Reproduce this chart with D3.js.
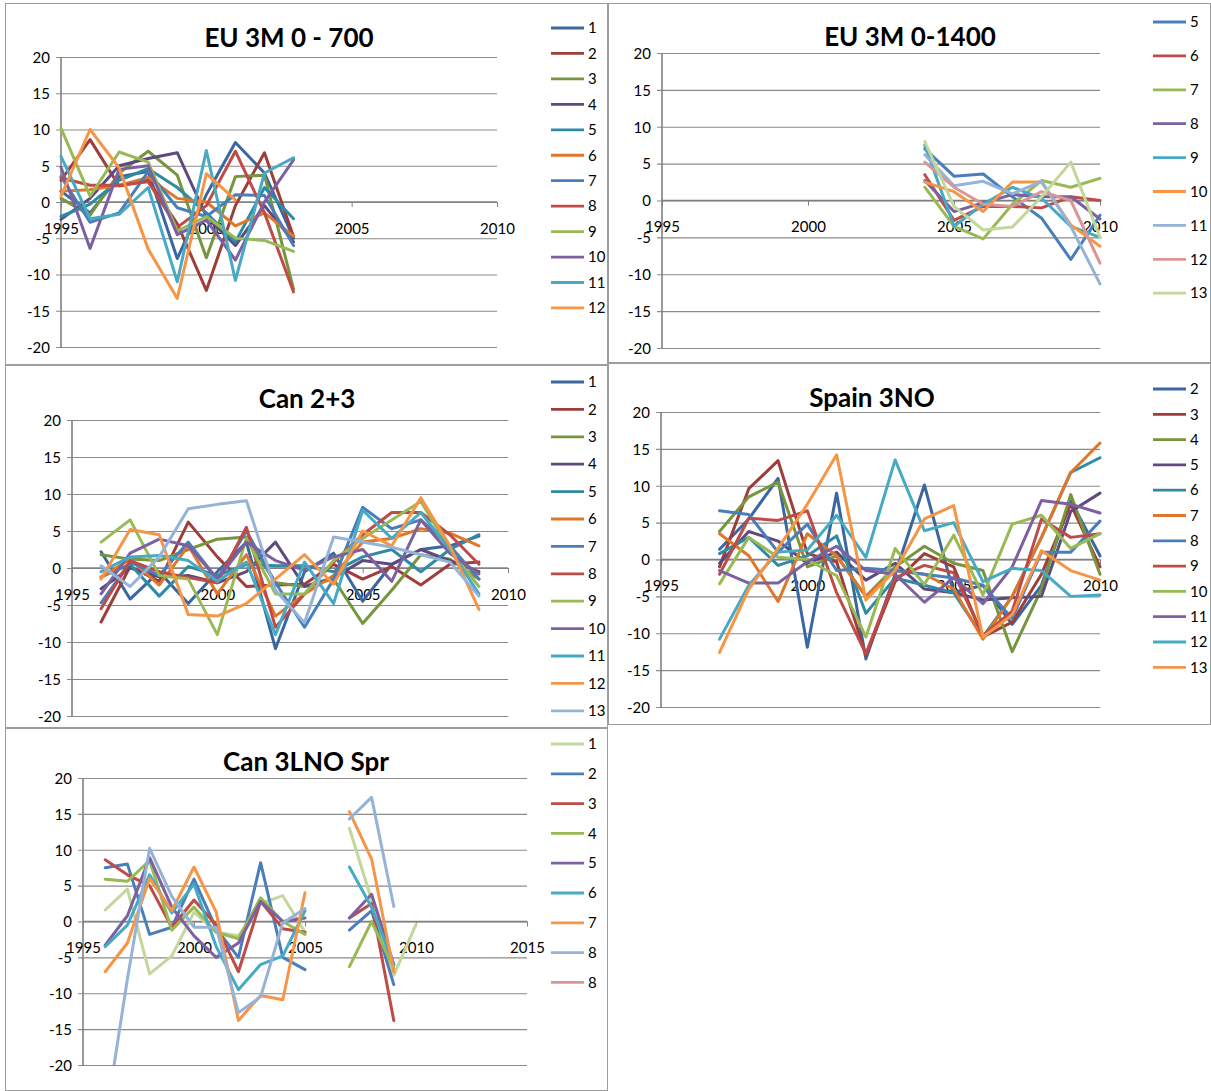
<!DOCTYPE html>
<html><head><meta charset="utf-8">
<script src="https://cdn.jsdelivr.net/npm/d3@7"></script>
<style>
body{margin:0;background:#fff}
svg{display:block}
text{font-family:Lato,"Open Sans",sans-serif;fill:#000}
</style>
</head><body>
<svg id="chart" width="1211" height="1091"></svg>
<script>
// ---- EU 3M 0 - 700 (1995-2003) ----
const euShallowYears = [1995, 1996, 1997, 1998, 1999, 2000, 2001, 2002, 2003];
const euShallowNames = ['1','2','3','4','5','6','7','8','9','10','11','12'];
const euShallowValues = [
  [1.5, -1.5, 3.5, 4.2, -7.8, 1.0, 8.2, 4.0, -5.0],
  [3.0, 8.6, 2.2, 3.0, -3.0, -12.2, -0.5, 6.8, -4.8],
  [0.5, -1.8, 4.0, 7.0, 3.7, -7.7, 3.5, 3.7, -12.0],
  [-2.4, 0.5, 5.0, 6.0, 6.8, -2.0, -6.0, -0.5, -5.5],
  [-2.0, -0.3, 3.0, 4.6, 2.0, -1.5, -5.5, 2.0, -2.3],
  [1.5, 1.7, 2.3, 3.4, 0.5, 0.0, -3.3, -1.5, -4.7],
  [3.5, -2.8, -1.5, 4.2, -0.8, -2.0, 1.0, 0.9, -6.0],
  [3.3, 2.3, 2.3, 2.8, -3.5, -0.5, 7.0, -1.5, -12.4],
  [10.2, 0.8, 6.9, 5.5, -4.0, -2.0, -5.0, -5.3, -6.8],
  [4.8, -6.4, 4.5, 5.0, -4.5, -2.5, -8.0, 0.0, 5.8],
  [6.3, -2.3, -1.7, 2.0, -11.0, 7.1, -10.8, 4.0, 6.1],
  [0.8, 10.0, 4.7, -6.5, -13.3, 3.9, 0.3, null, null]
];

// ---- EU 3M 0-1400 (2004-2010) ----
const euDeepYears = [2004, 2005, 2006, 2007, 2008, 2009, 2010];
const euDeepNames = ['5','6','7','8','9','10','11','12','13'];
const euDeepValues = [
  [7.0, 3.3, 3.6, 0.5, -2.4, -8.0, -2.0],
  [3.5, -2.7, -0.8, -0.8, -1.0, 0.5, 0.0],
  [1.8, -3.5, -5.2, -0.5, 2.7, 1.8, 3.0],
  [2.7, -1.5, -0.3, 0.8, 0.5, 0.5, -2.5],
  [7.5, -3.5, -0.5, 1.8, 0.3, -3.5, -5.0],
  [2.5, 1.2, -1.5, 2.5, 2.5, -3.3, -6.2],
  [6.2, 2.0, 2.6, 0.9, 2.6, -3.5, -11.3],
  [5.2, 1.8, -0.5, -0.8, 1.2, 0.0, -8.5],
  [8.0, -0.8, -4.0, -3.6, 0.5, 5.2, -5.0]
];

// ---- Can 2+3 (1996-2009) ----
const can23Years = [1996, 1997, 1998, 1999, 2000, 2001, 2002, 2003, 2004, 2005, 2006, 2007, 2008, 2009];
const can23Names = ['1','2','3','4','5','6','7','8','9','10','11','12','13'];
const can23Values = [
  [2.2, -4.2, -0.5, -4.8, -0.5, 3.5, -10.9, -0.5, 2.0, -4.5, 0.5, 2.5, 3.0, 4.3],
  [-7.3, 0.2, -1.8, 6.2, 1.5, -2.5, -2.3, -2.2, 0.5, -1.5, 0.2, -2.3, 0.5, 0.8],
  [1.8, 1.2, 1.0, 2.5, 3.9, 4.2, -2.0, -2.5, -1.5, -7.5, -3.0, 1.8, 1.2, -1.5],
  [-2.8, 0.0, -1.2, -1.0, -2.0, -0.5, 3.5, -2.5, -1.3, 1.0, 0.5, 2.5, 1.0, -0.5],
  [-1.2, 0.5, -3.8, 0.2, -1.0, 0.5, 0.3, 0.3, -0.5, 1.5, 2.5, -0.5, 2.5, 4.5],
  [-1.3, 1.2, -2.3, 3.0, -3.5, 1.8, -6.5, -3.5, -1.0, 3.5, 4.0, 5.3, 4.7, 3.0],
  [-4.7, 0.8, -1.0, 3.5, -1.5, 5.0, -2.0, -8.0, -1.5, 8.2, 5.3, 6.5, 3.0, -1.5],
  [-5.5, 1.0, -0.5, -1.3, -2.0, 5.5, -8.0, -3.5, 0.8, 4.5, 7.5, 7.5, 4.5, 0.5],
  [3.5, 6.5, -1.0, -1.5, -9.0, 4.0, -3.5, -3.5, 1.0, 4.0, 6.5, 9.0, 2.5, -2.5],
  [-3.5, 2.0, 3.9, 3.0, -1.5, 3.5, 1.0, -0.3, 1.5, 2.5, -1.8, 6.5, 2.0, -0.8],
  [-0.5, 1.5, 1.7, 1.0, -1.8, 0.8, -9.0, 0.8, -4.8, 7.8, 4.0, 7.5, 2.5, -3.5],
  [-1.5, 5.2, 4.5, -6.3, -6.5, -4.8, -1.5, 1.8, -2.2, 5.0, 3.0, 9.5, 3.0, -5.6],
  [0.3, -2.5, 1.5, 8.0, 8.6, 9.1, -3.0, -7.4, 4.2, 3.5, 2.8, 1.8, 0.8, -3.8]
];

// ---- Spain 3NO (1997-2010) ----
const spainYears = [1997, 1998, 1999, 2000, 2001, 2002, 2003, 2004, 2005, 2006, 2007, 2008, 2009, 2010];
const spainNames = ['2','3','4','5','6','7','8','9','10','11','12','13'];
const spainValues = [
  [1.4, 5.5, 11.0, -11.9, 9.0, -13.5, -2.0, 10.1, -4.5, -3.5, -8.8, -3.5, 8.0, 0.5],
  [-1.0, 9.6, 13.4, 0.8, -0.3, -13.0, -3.0, 0.8, -1.0, -10.5, -8.5, -2.0, 7.5, -1.0],
  [3.8, 8.5, 10.5, -1.0, 0.5, -5.0, -1.0, 1.8, -0.5, -1.5, -12.5, -4.0, 8.8, -2.0],
  [-0.5, 3.8, 2.5, -0.5, 1.0, -2.8, -0.5, -4.0, -4.5, -5.5, -5.2, -5.0, 6.5, 9.0],
  [0.8, 3.0, -0.8, 0.5, 3.2, -7.3, -2.5, -3.5, -4.5, -10.5, -5.0, 3.0, 11.8, 13.8],
  [3.5, 0.5, -5.7, 3.5, 0.5, -5.0, -1.5, -2.0, -4.0, -10.8, -5.0, 3.0, 11.8, 15.8],
  [6.6, 6.1, 1.0, 4.8, -1.5, -1.2, -1.5, -2.0, -2.5, -3.5, -8.0, 1.0, 1.0, 5.2],
  [-2.0, 5.6, 5.3, 6.6, -4.5, -12.8, -2.5, -0.8, -1.8, -10.3, -7.0, 5.5, 3.0, 3.5],
  [-3.3, 3.0, 0.3, 0.0, -2.2, -10.5, 1.5, -3.4, 3.3, -4.8, 4.8, 6.0, 1.5, 3.5],
  [-1.5, -3.2, -3.2, -0.3, 1.8, -1.5, -2.0, -5.8, -2.5, -6.0, -1.0, 8.0, 7.5, 6.3],
  [-10.8, -3.5, 1.0, 1.3, 6.0, 0.3, 13.5, 3.9, 5.0, -3.0, -1.2, -1.5, -5.0, -4.8],
  [-12.6, -4.0, 1.5, 7.5, 14.2, -5.5, -1.5, 5.5, 7.3, -10.5, -7.5, 1.2, -1.5, -2.8]
];

// ---- Can 3LNO Spr (1996-2010, no survey in 2006) ----
const canSprYears = [1996, 1997, 1998, 1999, 2000, 2001, 2002, 2003, 2004, 2005, 2006, 2007, 2008, 2009, 2010];
const canSprNames = ['1','2','3','4','5','6','7','8','8'];
const canSprValues = [
  [1.6, 4.5, -7.3, -4.8, 1.3, -1.5, -2.0, 2.5, 3.6, -1.5, null, 13.0, 3.0, -7.5, -0.4],
  [7.5, 8.0, -1.8, -0.8, 5.9, -1.0, -5.0, 8.2, -5.0, -6.7, null, -1.2, 1.5, -8.8, null],
  [8.6, 6.5, 5.0, -0.8, 3.0, -0.5, -7.0, 2.8, -1.0, -1.5, null, 0.5, 2.5, -13.8, null],
  [5.9, 5.6, 8.5, -1.2, 2.0, -1.5, -2.4, 3.3, 0.0, -1.8, null, -6.3, 0.0, -6.5, null],
  [-3.3, 0.8, 8.9, 2.0, -2.0, -5.0, -3.0, 2.8, 0.0, 0.5, null, 0.5, 3.8, -6.0, null],
  [-3.5, -0.5, 6.5, 1.2, 5.2, -3.5, -9.5, -6.0, -4.8, 1.5, null, 7.6, 2.0, -6.0, null],
  [-7.0, -3.0, 6.0, 1.5, 7.6, 1.3, -13.8, -10.3, -10.9, 4.0, null, 15.3, 8.7, -7.0, null],
  [-28.0, -8.0, 10.2, 3.5, -0.8, -0.8, -12.7, -10.5, -0.2, 1.8, null, 14.3, 17.3, 2.1, null],
  [null, null, null, null, null, null, null, null, null, null, null, null, null, null, null]
];

const yTickValues = [-20, -15, -10, -5, 0, 5, 10, 15, 20];

// Office palette: darker, standard and lighter accent variants
const DARK = ['#3B67A0', '#9F3D3A', '#77953D', '#5F4A7D', '#2F8AA3', '#E0762A'];
const BASE = ['#4A7EBB', '#BE4B48', '#98B954', '#7D60A0', '#46AAC5', '#F69545'];
const LIGHT = ['#95B3D7', '#D99694', '#C3D69B'];

const panels = [
  { id: 'p1', title: 'EU 3M 0 - 700', box: [5, 3, 608, 365], titleX: 289, titleY: 47,
    x0: 61, x1: 497, y0: 57, y1: 347, xDomain: [1995, 2010], xTicks: [1995, 2000, 2005, 2010],
    years: euShallowYears, names: euShallowNames, values: euShallowValues,
    colors: DARK.concat(BASE), legX: 551, legY: 28, legDy: 25.45 },
  { id: 'p2', title: 'EU 3M 0-1400', box: [608, 3, 1211, 363], titleX: 910, titleY: 46,
    x0: 662, x1: 1100, y0: 53, y1: 348, xDomain: [1995, 2010], xTicks: [1995, 2000, 2005, 2010],
    years: euDeepYears, names: euDeepNames, values: euDeepValues,
    colors: BASE.concat(LIGHT), legX: 1153, legY: 22, legDy: 33.9 },
  { id: 'p3', title: 'Can 2+3', box: [5, 365, 608, 728], titleX: 307, titleY: 408,
    x0: 72, x1: 508, y0: 420, y1: 716, xDomain: [1995, 2010], xTicks: [1995, 2000, 2005, 2010],
    years: can23Years, names: can23Names, values: can23Values,
    colors: DARK.concat(BASE, [LIGHT[0]]), legX: 551, legY: 382, legDy: 27.4 },
  { id: 'p4', title: 'Spain 3NO', box: [608, 363, 1211, 725], titleX: 872, titleY: 407,
    x0: 661, x1: 1100, y0: 412, y1: 707, xDomain: [1995, 2010], xTicks: [1995, 2000, 2005, 2010],
    years: spainYears, names: spainNames, values: spainValues,
    colors: DARK.concat(BASE), legX: 1153, legY: 389, legDy: 25.3 },
  { id: 'p5', title: 'Can 3LNO Spr', box: [5, 728, 608, 1091], titleX: 306, titleY: 771,
    x0: 83, x1: 527, y0: 778, y1: 1065, xDomain: [1995, 2015], xTicks: [1995, 2000, 2005, 2010, 2015],
    years: canSprYears, names: canSprNames, values: canSprValues,
    colors: [LIGHT[2]].concat(BASE, [LIGHT[0], LIGHT[1]]), legX: 551, legY: 744, legDy: 29.8 }
];

const plainNumber = d => String(d);

const svg = d3.select('#chart');
const defs = svg.append('defs');

panels.forEach(p => {
  const g = svg.append('g').attr('class', p.id);
  const [bx0, by0, bx1, by1] = p.box;

  // chart frame
  g.append('rect')
    .attr('x', bx0 + 0.5).attr('y', by0 + 0.5)
    .attr('width', bx1 - bx0 - 1).attr('height', by1 - by0 - 1)
    .attr('fill', '#fff').attr('stroke', '#9d9d9d').attr('stroke-width', 1);

  const x = d3.scaleLinear().domain(p.xDomain).range([p.x0, p.x1]);
  const y = d3.scaleLinear().domain([-20, 20]).range([p.y1, p.y0]);

  // horizontal gridlines + value axis
  const yAxis = d3.axisLeft(y).tickValues(yTickValues).tickSize(-(p.x1 - p.x0)).tickPadding(11)
    .tickFormat(plainNumber);
  const ya = g.append('g').attr('transform', `translate(${p.x0},0)`).call(yAxis);
  ya.select('.domain').remove();
  ya.selectAll('.tick line').attr('stroke', '#8a8a8a').attr('stroke-width', 1.1)
    .attr('x1', -5);
  ya.selectAll('.tick text').attr('font-size', 15).attr('font-family', 'Lato, sans-serif')
    .attr('fill', '#000').attr('dy', '0.35em');
  g.append('line').attr('x1', p.x0).attr('x2', p.x0).attr('y1', p.y0).attr('y2', p.y1)
    .attr('stroke', '#808080').attr('stroke-width', 1.6);

  // year axis crossing at zero
  const zy = y(0);
  const xAxis = d3.axisBottom(x).tickValues(p.xTicks).tickSize(5).tickPadding(16)
    .tickFormat(plainNumber);
  const xa = g.append('g').attr('transform', `translate(0,${zy})`).call(xAxis);
  xa.select('.domain').attr('stroke', '#808080').attr('stroke-width', 1.6)
    .attr('d', `M${p.x0},0H${p.x1}`);
  xa.selectAll('.tick line').attr('stroke', '#808080');
  xa.selectAll('.tick text').attr('font-size', 15).attr('font-family', 'Lato, sans-serif')
    .attr('fill', '#000');

  // title
  g.append('text').attr('x', p.titleX).attr('y', p.titleY).attr('text-anchor', 'middle')
    .attr('font-size', 26).attr('font-weight', 'bold').text(p.title);

  // series lines
  defs.append('clipPath').attr('id', 'clip-' + p.id).append('rect')
    .attr('x', p.x0 - 4).attr('y', p.y0).attr('width', p.x1 - p.x0 + 8).attr('height', p.y1 - p.y0);
  const line = d3.line()
    .defined(d => d.v !== null)
    .x(d => x(d.year)).y(d => y(d.v));
  const lines = g.append('g').attr('clip-path', `url(#clip-${p.id})`);
  p.values.forEach((vals, i) => {
    const pts = vals.map((v, k) => ({ year: p.years[k], v: v }));
    lines.append('path').datum(pts)
      .attr('d', line).attr('fill', 'none')
      .attr('stroke', p.colors[i]).attr('stroke-width', 3)
      .attr('stroke-linejoin', 'round').attr('stroke-linecap', 'round');
  });

  // legend
  const leg = g.append('g');
  p.names.forEach((name, i) => {
    const ly = p.legY + i * p.legDy;
    leg.append('line').attr('x1', p.legX).attr('x2', p.legX + 33).attr('y1', ly).attr('y2', ly)
      .attr('stroke', p.colors[i]).attr('stroke-width', 2.8);
    leg.append('text').attr('x', p.legX + 37).attr('y', ly).attr('dy', '0.35em')
      .attr('font-size', 15).text(name);
  });
});
</script>
</body></html>
